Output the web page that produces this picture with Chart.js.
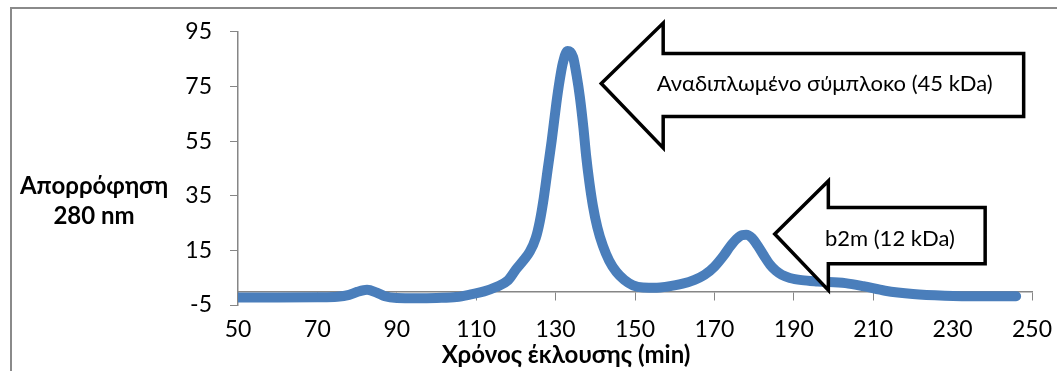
<!DOCTYPE html>
<html>
<head>
<meta charset="utf-8">
<script src="https://cdn.jsdelivr.net/npm/chart.js@4.4.1/dist/chart.umd.min.js"></script>
<style>
  html, body { margin: 0; padding: 0; background: #fff; }
  #wrap { width: 1057px; height: 371px; position: relative; }
</style>
</head>
<body>
<div id="wrap"><canvas id="chart"></canvas></div>
<script>
// elution profile
const elutionTime = [50, 60, 70, 75, 78, 80, 82.5, 85, 87, 90, 95, 100, 105, 109, 112, 115, 118, 120, 122, 123.5,
  125, 126, 127, 128, 129, 130.2, 131, 131.8, 133, 134.4, 135.3, 136.1, 137, 137.7, 138.5, 139.4, 140.5, 141.9, 143.5,
  145.3, 147.3, 149.5, 152, 155.5, 158, 162, 165, 167.5, 170, 172.3, 174, 175.6, 177, 178, 179.5, 181, 182.5,
  184, 185.5, 187, 189, 192, 196, 203, 207.5, 213, 220, 228, 237, 246];
const absorbance = [-2.3, -2.3, -2.2, -2.0, -1.3, -0.2, 0.6, -0.5, -1.8, -2.4, -2.5, -2.4, -2.1, -1.0, 0.0, 1.6, 4.0, 8, 11.5, 14.5,
  19.5, 25.5, 34, 44.6, 55, 69, 77, 83.4, 88, 85.8, 79, 71.3, 60, 49.5, 40, 31.3, 23.5, 16.7, 11.2,
  7.1, 4.2, 2.2, 1.4, 1.3, 1.7, 2.8, 4.2, 6, 9, 13, 16.5, 19.2, 20.6, 20.7, 19.5, 16.5, 13,
  9.8, 7.5, 6, 4.9, 4.1, 3.6, 3.0, 1.9, 0.2, -1.0, -1.6, -1.8, -1.8];

const xTicks = [50, 70, 90, 110, 130, 150, 170, 190, 210, 230, 250];
const yTicks = [-5, 15, 35, 55, 75, 95];
const xTitle = 'Χρόνος έκλουσης (min)';
const yTitle = ['Απορρόφηση', '280 nm'];
const arrowLabels = ['Αναδιπλωμένο σύμπλοκο (45 kDa)', 'b2m (12 kDa)'];

// callout arrows, in data units
const arrows = [
  { tip: [141.5, 76.1], headX: 157.1, headTop: 98.2, headBottom: 52.5, shaftTop: 87.1, shaftBottom: 64, endX: 247.9, text: [197.8, 76.1] },
  { tip: [185.2, 21], headX: 198.7, headTop: 40.4, headBottom: 0.4, shaftTop: 30.7, shaftBottom: 10.1, endX: 238.2, text: [214.2, 19.1] }
];

const FONT = 'Lato, "Noto Sans", sans-serif';
const AXIS_GREY = '#868686';

const decor = {
  id: 'decor',
  beforeDraw(chart) {
    const ctx = chart.ctx;
    ctx.save();
    ctx.strokeStyle = '#8a8a8a';
    ctx.lineWidth = 2;
    ctx.beginPath();
    ctx.moveTo(11, chart.height);
    ctx.lineTo(11, 8);
    ctx.lineTo(chart.width, 8);
    ctx.stroke();
    ctx.restore();
  },
  afterDatasetsDraw(chart) {
    const ctx = chart.ctx, xs = chart.scales.x, ys = chart.scales.y;
    const px = v => xs.getPixelForValue(v), py = v => ys.getPixelForValue(v);
    ctx.save();
    arrows.forEach((a, i) => {
      ctx.beginPath();
      ctx.moveTo(px(a.tip[0]), py(a.tip[1]));
      ctx.lineTo(px(a.headX), py(a.headTop));
      ctx.lineTo(px(a.headX), py(a.shaftTop));
      ctx.lineTo(px(a.endX), py(a.shaftTop));
      ctx.lineTo(px(a.endX), py(a.shaftBottom));
      ctx.lineTo(px(a.headX), py(a.shaftBottom));
      ctx.lineTo(px(a.headX), py(a.headBottom));
      ctx.closePath();
      ctx.fillStyle = '#fff';
      ctx.fill();
      ctx.lineWidth = 3.5;
      ctx.lineJoin = 'miter';
      ctx.strokeStyle = '#000';
      ctx.stroke();
      ctx.fillStyle = '#000';
      ctx.font = '22px ' + FONT;
      ctx.textAlign = 'center';
      ctx.textBaseline = 'middle';
      ctx.fillText(arrowLabels[i], px(a.text[0]), py(a.text[1]));
    });
    ctx.restore();
  },
  afterDraw(chart) {
    const ctx = chart.ctx;
    ctx.save();
    ctx.fillStyle = '#000';
    ctx.font = 'bold 24px ' + FONT;
    ctx.textAlign = 'center';
    ctx.textBaseline = 'middle';
    ctx.fillText(yTitle[0], 94, 186);
    ctx.fillText(yTitle[1], 94, 216);
    ctx.fillText(xTitle, 566, 355);
    ctx.restore();
  }
};

new Chart(document.getElementById('chart'), {
  type: 'line',
  data: {
    datasets: [{
      data: elutionTime.map((t, i) => ({ x: t, y: absorbance[i] })),
      xAxisID: 'x',
      yAxisID: 'y',
      borderColor: '#4A7EBB',
      borderWidth: 10,
      pointRadius: 0,
      cubicInterpolationMode: 'monotone',
      borderCapStyle: 'round',
      borderJoinStyle: 'round',
      fill: false
    }]
  },
  options: {
    responsive: true,
    maintainAspectRatio: false,
    animation: false,
    devicePixelRatio: 1,
    layout: { padding: { left: 178, top: 30, right: 25, bottom: 0 } },
    plugins: { legend: { display: false }, tooltip: { enabled: false } },
    scales: {
      x: {
        type: 'linear', position: 'bottom', min: 50, max: 250,
        afterBuildTicks: s => { s.ticks = xTicks.map(v => ({ value: v })); },
        afterFit: s => { s.height = 66; },
        grid: { display: false },
        border: { display: false },
        ticks: { font: { family: FONT, size: 23 }, color: '#000', padding: 3, maxRotation: 0 }
      },
      x0: {
        type: 'linear', position: { y: 0 }, min: 50, max: 250,
        afterBuildTicks: s => { s.ticks = xTicks.map(v => ({ value: v })); },
        grid: { drawOnChartArea: false, tickLength: 8, color: AXIS_GREY },
        border: { color: AXIS_GREY, width: 1.5 },
        ticks: { display: false }
      },
      y: {
        type: 'linear', position: 'left', min: -5, max: 95,
        afterBuildTicks: s => { s.ticks = yTicks.map(v => ({ value: v })); },
        afterFit: s => { s.width = 60; },
        grid: { drawOnChartArea: false, tickLength: 8, color: AXIS_GREY },
        border: { color: AXIS_GREY, width: 1.5 },
        ticks: { font: { family: FONT, size: 23 }, color: '#000', padding: 18 }
      }
    }
  },
  plugins: [decor]
});
</script>
</body>
</html>
